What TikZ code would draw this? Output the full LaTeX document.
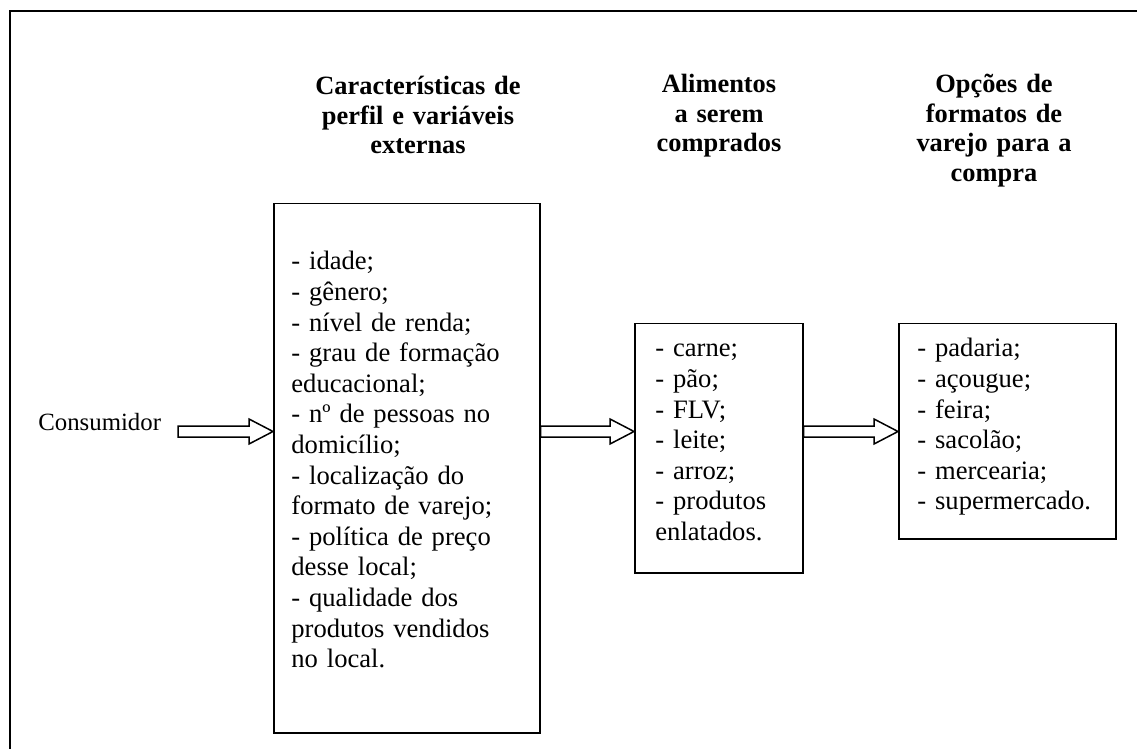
\documentclass[tikz,border=0pt]{standalone}
\usepackage{fontspec}
\setmainfont{Liberation Serif}
\usetikzlibrary{calc}

% hollow arrow from #1 to #2
\newcommand{\setaoca}[2]{%
  \draw[seta] let \p1=(#1), \p2=(#2) in
    (\x1,\y1+2.75pt) -- (\x2-12pt,\y1+2.75pt) -- (\x2-12pt,\y1+6.25pt) -- (\x2,\y1)
    -- (\x2-12pt,\y1-6.25pt) -- (\x2-12pt,\y1-2.75pt) -- (\x1,\y1-2.75pt) -- cycle;}

\begin{document}
\begin{tikzpicture}[x=0.5pt,y=-0.5pt,
  caixa/.style={draw,line width=0.75pt,anchor=north west,inner sep=0pt},
  lista/.style={anchor=base west,inner sep=0pt,text width=#1,align=left,
    font=\fontsize{13.3pt}{15.3pt}\selectfont},
  titulo/.style={anchor=base,inner sep=0pt,text width=#1,align=center,
    font=\fontsize{13.2pt}{14.7pt}\selectfont\bfseries},
  seta/.style={line width=0.75pt}]
\useasboundingbox (0,0) rectangle (1137,749);
% frame
\draw[line width=1pt] (10,749) -- (10,11) -- (1137,11);
% headings
\node[titulo=120pt] (tPerfil) at (418,95) {Características de\\perfil e variáveis\\externas};
\node[titulo=80pt] (tAlimentos) at (719,93) {Alimentos\\a serem\\comprados};
\node[titulo=90pt] (tFormatos) at (994,93) {Opções de\\formatos de\\varejo para a\\compra};
% consumer
\node[anchor=base west,inner sep=0pt,font=\fontsize{12.4pt}{15pt}\selectfont] (consumidor) at (38,430) {Consumidor};
% boxes
\node[caixa,minimum width=133pt,minimum height=264.5pt] (perfil) at (273,203) {};
\node[caixa,minimum width=84pt,minimum height=124.5pt] (alimentos) at (634,323) {};
\node[caixa,minimum width=108.5pt,minimum height=107.5pt] (formatos) at (898,323) {};
% lists
\node[lista=120pt] (perfilLista) at ([shift={(18,67)}]perfil.north west)
  {- idade;\\- gênero;\\- nível de renda;\\- grau de formação\\educacional;\\- nº de pessoas no\\domicílio;\\- localização do\\formato de varejo;\\- política de preço\\desse local;\\- qualidade dos\\produtos vendidos\\no local.};
\node[lista=80pt] (alimentosLista) at ([shift={(21,34)}]alimentos.north west)
  {- carne;\\- pão;\\- FLV;\\- leite;\\- arroz;\\- produtos\\enlatados.};
\node[lista=100pt] (formatosLista) at ([shift={(19,34)}]formatos.north west)
  {- padaria;\\- açougue;\\- feira;\\- sacolão;\\- mercearia;\\- supermercado.};
% arrows
\coordinate (eixo) at (178,431.5);
\setaoca{eixo}{perfil.west |- eixo}
\setaoca{perfil.east |- eixo}{alimentos.west |- eixo}
\setaoca{alimentos.east |- eixo}{formatos.west |- eixo}
\end{tikzpicture}
\end{document}
